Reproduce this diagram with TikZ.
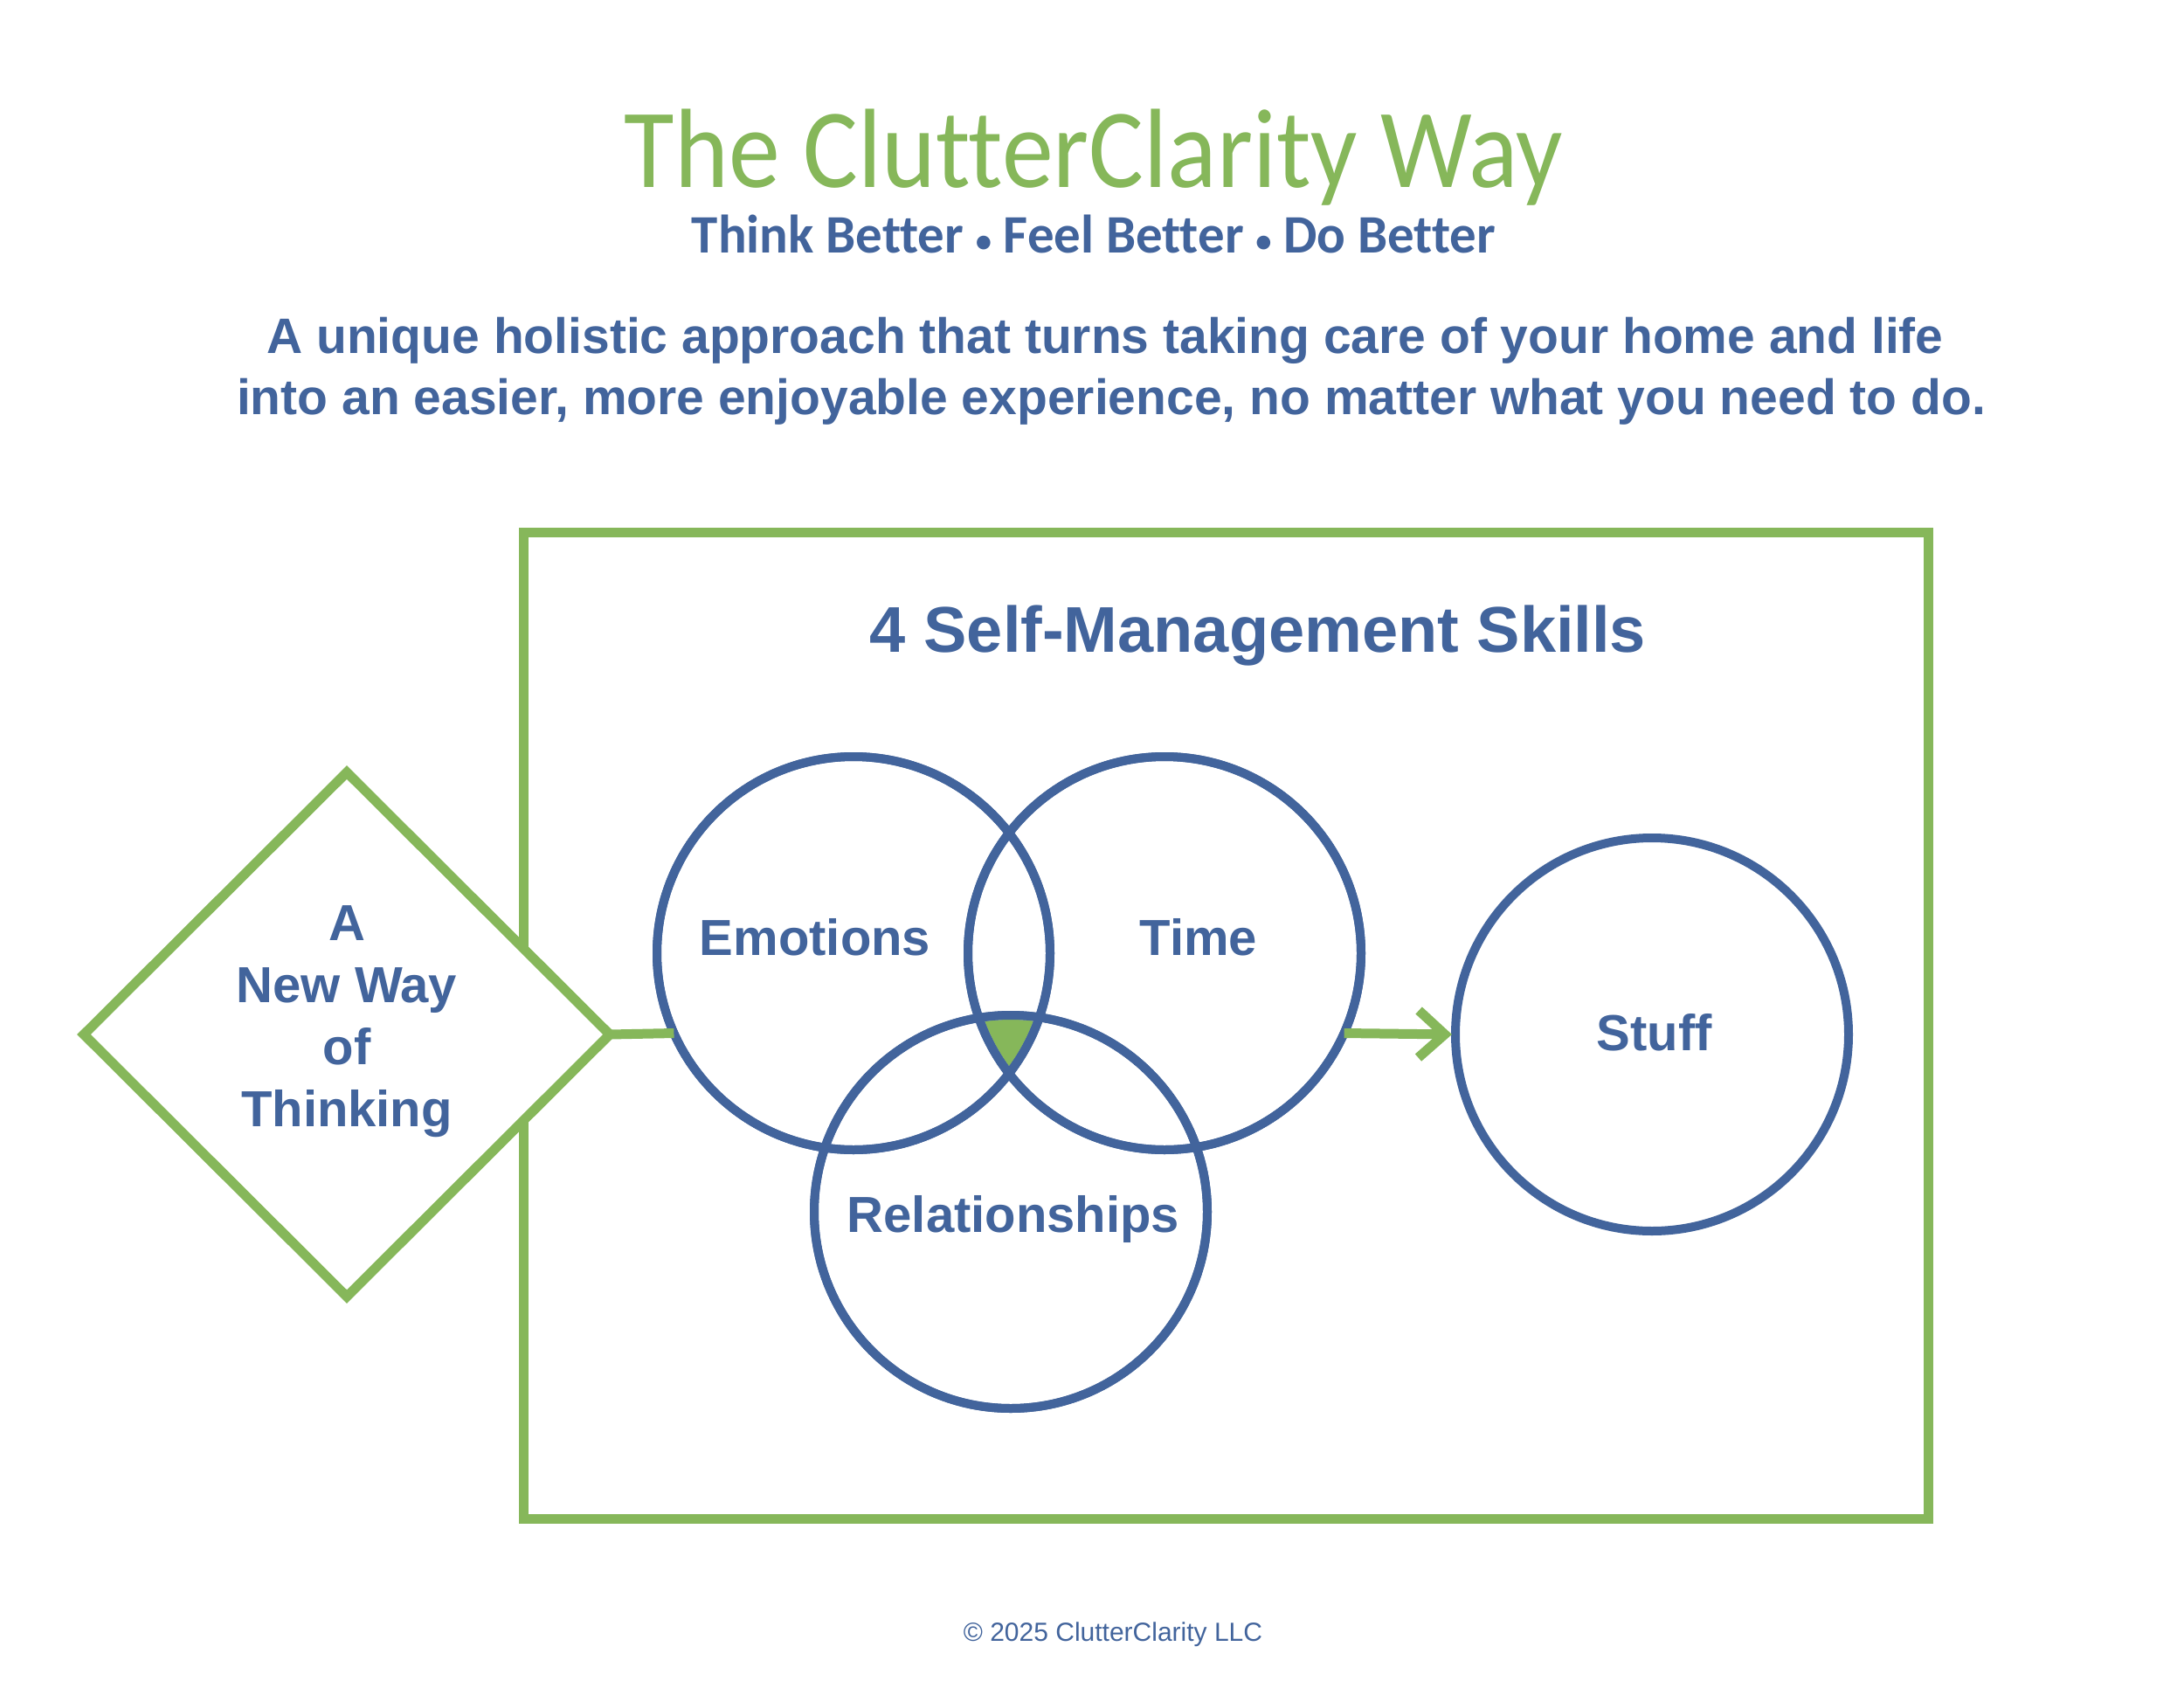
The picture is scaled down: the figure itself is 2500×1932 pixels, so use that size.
\documentclass[tikz,border=0pt]{standalone}
\usepackage{fontspec}
\setmainfont{Liberation Sans}
\newfontfamily\carl[Ligatures=NoCommon]{Carlito}
\usetikzlibrary{shapes.geometric,arrows.meta}
\definecolor{cgreen}{RGB}{134,183,90}
\definecolor{cblue}{RGB}{66,100,156}
\newcommand{\smallbul}{\raisebox{1pt}{\scalebox{0.6}{\textbullet}}}
\begin{document}
\begin{tikzpicture}[x=1pt,y=-1pt,
  ring/.style={circle, draw=cblue, line width=10pt, minimum size=450pt, inner sep=0pt, outer sep=0pt},
  lbl/.style={text=cblue, font=\bfseries\fontsize{58}{71}\selectfont, inner sep=0pt, anchor=base},
  gline/.style={draw=cgreen, line width=11pt},
  txt/.style={inner sep=0pt, anchor=base}
]
\useasboundingbox (0,0) rectangle (2500,1932);
\fill[white] (0,0) rectangle (2500,1932);

% header
\node[txt, text=cgreen] (title) at (1252,214)
  {\resizebox{1074pt}{\height}{\carl\fontsize{129}{129}\selectfont The ClutterClarity Way}};
\node[txt, text=cblue] (sub) at (1252,289)
  {\resizebox{920pt}{\height}{\carl\bfseries\fontsize{62}{62}\selectfont Think Better \smallbul{} Feel Better \smallbul{} Do Better}};
\node[txt, text=cblue, font=\bfseries\fontsize{57}{57}\selectfont] (tag1) at (1265,404)
  {A unique holistic approach that turns taking care of your home and life};
\node[txt, text=cblue, font=\bfseries\fontsize{57}{57}\selectfont] (tag2) at (1272,474)
  {into an easier, more enjoyable experience, no matter what you need to do.};

% frame
\node[draw=cgreen, line width=11pt, minimum width=1608pt, minimum height=1129pt,
      inner sep=0pt, outer sep=0pt] (frame) at (1403,1173.5) {};
\node[txt, text=cblue, font=\bfseries\fontsize{74}{74}\selectfont] (head) at (1440,746)
  {4 Self-Management Skills};

% diamond
\node[diamond, draw=cgreen, fill=white, line width=11pt, minimum width=602pt,
      minimum height=600pt, inner sep=0pt, outer sep=0pt] (think) at (397,1184) {};
\node[text=cblue, font=\bfseries\fontsize{58}{71}\selectfont, align=center, inner sep=0pt]
  (thinkl) at (397,1169) {A\\New Way\\of\\Thinking};

% circle nodes
\node[ring] (emo) at (977,1091) {};
\node[ring] (time) at (1333,1091) {};
\node[ring] (rel) at (1157,1387) {};
\node[ring] (stuff) at (1891,1184) {};

% triple intersection
\begin{scope}
  \clip (emo.center) circle (220pt);
  \clip (time.center) circle (220pt);
  \fill[cgreen] (rel.center) circle (220pt);
\end{scope}
% redraw rings on top of fill
\draw[cblue, line width=10pt] (emo.center) circle (225pt);
\draw[cblue, line width=10pt] (time.center) circle (225pt);
\draw[cblue, line width=10pt] (rel.center) circle (225pt);

% connectors
\draw[gline] (think.east) -- (emo.204.4);
\draw[gline, -{Straight Barb[length=30pt,width=54pt]}, shorten >=4pt] (time.-24.4) -- (stuff.west);

% labels
\node[lbl] (emol) at (933,1093) {Emotions};
\node[lbl] (timel) at (1372,1093) {Time};
\node[lbl] (rell) at (1160,1410) {Relationships};
\node[lbl] (stuffl) at (1894,1202) {Stuff};

% footer
\node[txt, text=cblue, font=\fontsize{30}{30}\selectfont] (foot) at (1274,1878)
  {© 2025 ClutterClarity LLC};
\end{tikzpicture}
\end{document}
